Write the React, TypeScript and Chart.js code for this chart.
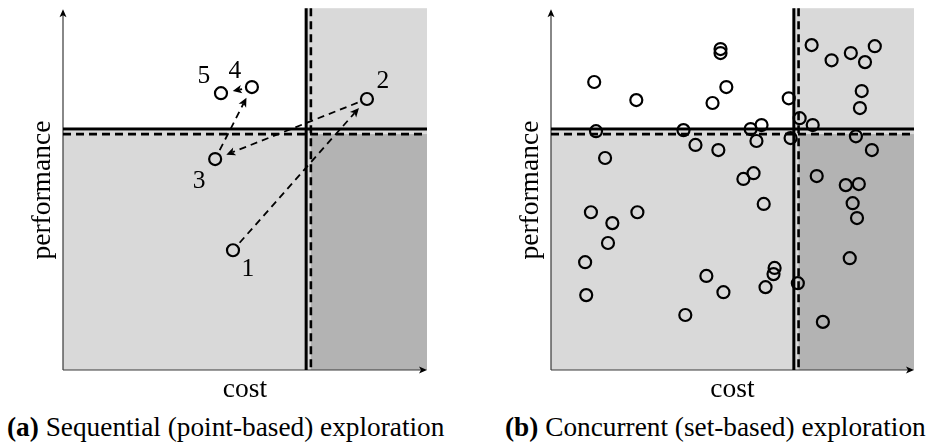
import React, { useEffect, useRef } from 'react';
import { Chart, registerables } from 'chart.js';

Chart.register(...registerables);

const FONT = '"Liberation Serif", "Times New Roman", serif';

// ---------- Panel (a): sequential (point-based) exploration ----------
const seqLabels = ['1', '2', '3', '4', '5'];
const seqCost = [4.67, 8.35, 4.18, 5.19, 4.34];
const seqPerf = [3.31, 7.49, 5.83, 7.82, 7.65];

// ---------- Panel (b): concurrent (set-based) exploration ----------
const setCost = [
  1.19, 2.35, 4.67, 4.67, 4.83, 4.45, 6.55, 7.18, 7.73, 8.26,
  8.92, 8.65, 8.56, 8.51, 6.85, 7.21, 1.24, 3.65, 5.5, 5.8,
  6.6, 5.66, 3.98, 4.61, 8.4, 8.84, 1.49, 5.3, 5.58, 7.32,
  8.12, 8.48, 8.31, 8.43, 5.86, 1.1, 2.38, 1.69, 1.57, 0.94,
  0.97, 4.28, 4.75, 3.7, 6.16, 6.13, 5.91, 6.8, 7.49, 8.23,
];
const setPerf = [
  7.96, 7.46, 8.87, 8.76, 7.82, 7.38, 7.51, 8.98, 8.56, 8.76,
  8.95, 8.51, 7.71, 7.24, 6.96, 6.77, 6.6, 6.63, 6.66, 6.77,
  6.41, 6.33, 6.22, 6.08, 6.46, 6.08, 5.86, 5.28, 5.44, 5.36,
  5.11, 5.14, 4.61, 4.2, 4.59, 4.36, 4.36, 4.06, 3.51, 2.98,
  2.07, 2.6, 2.15, 1.52, 2.82, 2.65, 2.29, 2.4, 1.33, 3.09,
];

// ---------- Requirement limits ----------
const costLimitA = [6.68, 6.81]; // [solid, dashed]
const costLimitB = [6.69, 6.82];
const perfLimit = [6.66, 6.52]; // [solid, dashed]
const axisRange = [0, 10];

const axisTitles = { x: 'cost', y: 'performance' };

const LIGHT = '#d9d9d9';
const DARK = '#b3b3b3';

// label offsets for the numbered points (px)
const seqLabelOffsets = [
  [15, 18],
  [16, -19],
  [-16, 21],
  [-17, -17],
  [-17, -18],
];

function arrowHead(ctx: CanvasRenderingContext2D, tx: number, ty: number, ux: number, uy: number, len: number, half: number) {
  const bx = tx - ux * len;
  const by = ty - uy * len;
  ctx.beginPath();
  ctx.moveTo(tx, ty);
  ctx.lineTo(bx - uy * half, by + ux * half);
  ctx.lineTo(tx - ux * len * 0.75, ty - uy * len * 0.75);
  ctx.lineTo(bx + uy * half, by - ux * half);
  ctx.closePath();
  ctx.fill();
}

const decorPlugin = {
  id: 'decor',
  beforeDatasetsDraw(chart: any, _args: any, opts: any) {
    const { ctx, chartArea: ca, scales } = chart;
    const xs = scales.x.getPixelForValue(opts.cost[0]);
    const xd = scales.x.getPixelForValue(opts.cost[1]);
    const ys = scales.y.getPixelForValue(opts.perf[0]);
    const yd = scales.y.getPixelForValue(opts.perf[1]);
    ctx.save();
    // shaded regions
    ctx.fillStyle = LIGHT;
    ctx.fillRect(ca.left, ys + 2, ca.right - ca.left, ca.bottom - ys - 2);
    ctx.fillRect(xs, ca.top, ca.right - xs, ca.bottom - ca.top);
    ctx.fillStyle = DARK;
    ctx.fillRect(xd, yd, ca.right - xd, ca.bottom - yd);

    // axes with arrows
    ctx.strokeStyle = '#3a3a3a';
    ctx.fillStyle = '#000';
    ctx.lineWidth = 1.2;
    ctx.beginPath();
    ctx.moveTo(ca.left, ca.bottom);
    ctx.lineTo(ca.left, ca.top + 6);
    ctx.moveTo(ca.left, ca.bottom);
    ctx.lineTo(ca.right - 6, ca.bottom);
    ctx.stroke();
    arrowHead(ctx, ca.left, ca.top + 1, 0, -1, 8, 3.5);
    arrowHead(ctx, ca.right, ca.bottom, 1, 0, 8, 3.5);

    // limit lines
    ctx.strokeStyle = '#000';
    ctx.lineWidth = 3;
    ctx.beginPath();
    ctx.moveTo(xs, ca.top);
    ctx.lineTo(xs, ca.bottom);
    ctx.moveTo(ca.left, ys);
    ctx.lineTo(ca.right, ys);
    ctx.stroke();
    ctx.lineWidth = 2.6;
    ctx.setLineDash([8, 5]);
    ctx.beginPath();
    ctx.moveTo(xd, ca.top);
    ctx.lineTo(xd, ca.bottom);
    ctx.moveTo(ca.left, yd);
    ctx.lineTo(ca.right, yd);
    ctx.stroke();
    ctx.setLineDash([]);

    // sequence arrows
    if (opts.arrows) {
      const meta = chart.getDatasetMeta(0);
      const pts = meta.data;
      ctx.lineWidth = 1.8;
      ctx.fillStyle = '#000';
      for (let i = 0; i < pts.length - 1; i++) {
        const x1 = pts[i].x, y1 = pts[i].y, x2 = pts[i + 1].x, y2 = pts[i + 1].y;
        const dx = x2 - x1, dy = y2 - y1;
        const len = Math.hypot(dx, dy);
        const ux = dx / len, uy = dy / len;
        const sx = x1 + ux * 10, sy = y1 + uy * 10;
        const tx = x2 - ux * 12, ty = y2 - uy * 12;
        const hb = 9;
        if (len - 22 - hb > 0) {
          ctx.setLineDash([7, 5]);
          ctx.beginPath();
          ctx.moveTo(sx, sy);
          ctx.lineTo(tx - ux * hb * 0.75, ty - uy * hb * 0.75);
          ctx.stroke();
          ctx.setLineDash([]);
        }
        arrowHead(ctx, tx, ty, ux, uy, hb, 4.2);
      }
    }
    ctx.restore();
  },
  afterDraw(chart: any, _args: any, opts: any) {
    const { ctx, chartArea: ca } = chart;
    ctx.save();
    ctx.fillStyle = '#000';
    ctx.font = `27.5px ${FONT}`;
    ctx.textAlign = 'center';
    ctx.textBaseline = 'alphabetic';
    ctx.fillText(axisTitles.x, (ca.left + ca.right) / 2, ca.bottom + 27);
    ctx.save();
    ctx.translate(ca.left - 13, (ca.top + ca.bottom) / 2 + 1);
    ctx.rotate(-Math.PI / 2);
    ctx.fillText(axisTitles.y, 0, 0);
    ctx.restore();
    if (opts.labels) {
      const pts = chart.getDatasetMeta(0).data;
      ctx.font = `25.5px ${FONT}`;
      ctx.textBaseline = 'middle';
      opts.labels.forEach((lab: string, i: number) => {
        const off = seqLabelOffsets[i];
        ctx.fillText(lab, pts[i].x + off[0], pts[i].y + off[1] + 1);
      });
    }
    ctx.restore();
  },
};

function makeChart(canvas: HTMLCanvasElement, xs: number[], ys: number[], padding: any, decor: any) {
  return new Chart(canvas, {
    type: 'scatter',
    data: {
      datasets: [
        {
          data: xs.map((v, i) => ({ x: v, y: ys[i] })),
          pointRadius: 6,
          pointHoverRadius: 6,
          pointBorderWidth: 2.2,
          pointHoverBorderWidth: 2.2,
          borderColor: '#000',
          backgroundColor: 'rgba(0,0,0,0)',
          clip: false as any,
        },
      ],
    },
    options: {
      responsive: false,
      animation: false,
      events: [],
      layout: { padding },
      scales: {
        x: { type: 'linear', min: axisRange[0], max: axisRange[1], display: false },
        y: { type: 'linear', min: axisRange[0], max: axisRange[1], display: false },
      },
      plugins: {
        legend: { display: false },
        tooltip: { enabled: false },
        decor,
      } as any,
    },
    plugins: [decorPlugin as any],
  });
}

export default function App() {
  const refA = useRef<HTMLCanvasElement>(null);
  const refB = useRef<HTMLCanvasElement>(null);

  useEffect(() => {
    const a = makeChart(
      refA.current!,
      seqCost,
      seqPerf,
      { left: 63, right: 38, top: 8, bottom: 30 },
      { cost: costLimitA, perf: perfLimit, arrows: true, labels: seqLabels }
    );
    const b = makeChart(
      refB.current!,
      setCost,
      setPerf,
      { left: 86, right: 16, top: 8, bottom: 30 },
      { cost: costLimitB, perf: perfLimit, arrows: false, labels: null }
    );
    return () => {
      a.destroy();
      b.destroy();
    };
  }, []);

  const cap: React.CSSProperties = {
    position: 'absolute',
    top: 414,
    fontFamily: FONT,
    fontSize: 27.3,
    lineHeight: '27px',
    whiteSpace: 'nowrap',
    color: '#000',
  };

  return (
    <div style={{ position: 'fixed', left: 0, top: 0, width: 930, height: 448, background: '#fff', overflow: 'hidden' }}>
      <canvas ref={refA} width={465} height={400} style={{ position: 'absolute', left: 0, top: 0, width: 465, height: 400 }} />
      <canvas ref={refB} width={465} height={400} style={{ position: 'absolute', left: 465, top: 0, width: 465, height: 400 }} />
      <div style={{ ...cap, left: 7 }}>
        <b>(a)</b> Sequential (point-based) exploration
      </div>
      <div style={{ ...cap, left: 505 }}>
        <b>(b)</b> Concurrent (set-based) exploration
      </div>
    </div>
  );
}
